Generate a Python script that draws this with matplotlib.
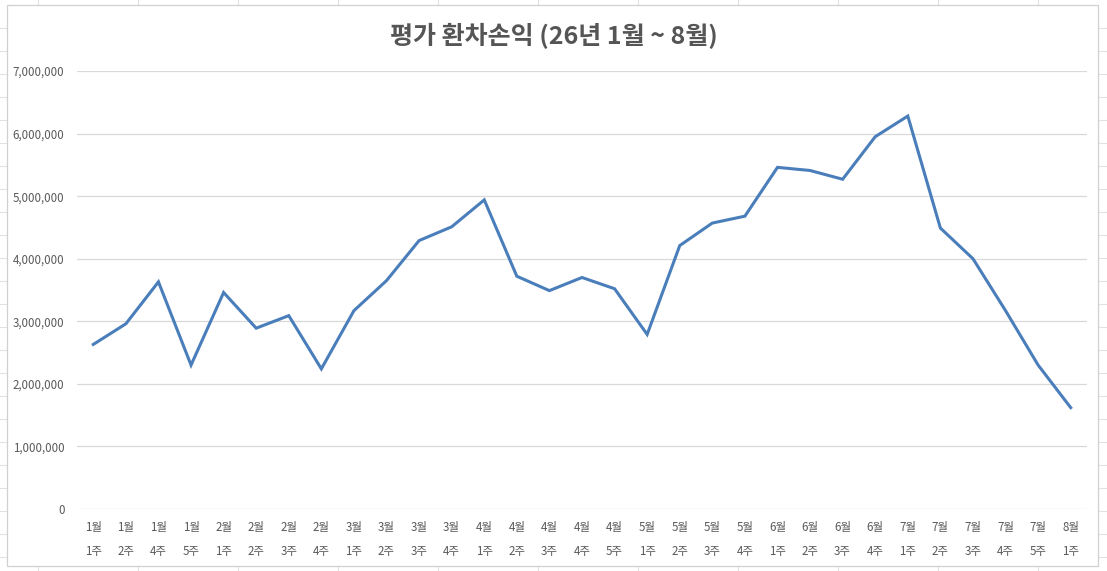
import matplotlib
matplotlib.use('Agg')
import matplotlib.pyplot as plt
from matplotlib.patches import Rectangle
from matplotlib.ticker import FuncFormatter

plt.rcParams['font.family'] = ['Noto Sans CJK KR', 'DejaVu Sans']

# 주차 라벨 (월 / 주)
months = ['1월', '1월', '1월', '1월', '2월', '2월', '2월', '2월', '3월', '3월', '3월',
          '3월', '4월', '4월', '4월', '4월', '4월', '5월', '5월', '5월', '5월', '6월',
          '6월', '6월', '6월', '7월', '7월', '7월', '7월', '7월', '8월']
weeks = ['1주', '2주', '4주', '5주', '1주', '2주', '3주', '4주', '1주', '2주', '3주',
         '4주', '1주', '2주', '3주', '4주', '5주', '1주', '2주', '3주', '4주', '1주',
         '2주', '3주', '4주', '1주', '2주', '3주', '4주', '5주', '1주']
# 평가 환차손익 (원)
values = [2630000, 2960000, 3630000, 2300000, 3460000, 2890000, 3090000, 2240000,
          3170000, 3650000, 4290000, 4510000, 4940000, 3720000, 3490000, 3700000,
          3520000, 2790000, 4210000, 4570000, 4680000, 5460000, 5410000, 5270000,
          5950000, 6280000, 4490000, 4000000, 3170000, 2300000, 1620000]

labels = [m + '\n' + w for m, w in zip(months, weeks)]

W, H = 1107, 571
fig = plt.figure(figsize=(W / 100, H / 100), dpi=100)

# 스프레드시트 배경 + 차트 테두리
bg = fig.add_axes([0, 0, 1, 1], zorder=-5)
bg.set_xlim(0, W)
bg.set_ylim(H, 0)
bg.axis('off')
for x in range(37, W, 100):
    bg.axvline(x + 0.7, color='#e2e2e2', lw=0.8, zorder=1)
for y in range(28, H, 23):
    bg.axhline(y, color='#e2e2e2', lw=0.8, zorder=1)
bg.add_patch(Rectangle((7, 5), 1091, 561, facecolor='white', edgecolor='#d0d0d0',
                       lw=0.9, zorder=2))

ax = fig.add_axes([77 / W, 1 - 509 / H, (1087 - 77) / W, (509 - 71) / H])
ax.set_facecolor('none')
xs = list(range(len(values)))
ax.plot(xs, values, color='#4a7ebb', lw=2.2, solid_joinstyle='miter', zorder=3)

ax.set_xlim(-0.5, len(values) - 0.5)
ax.set_ylim(0, 7000000)
ax.set_yticks(range(0, 7000001, 1000000))
ax.yaxis.set_major_formatter(FuncFormatter(lambda v, p: f'{int(v):,}'))
ax.set_xticks(xs)
ax.set_xticklabels(labels, linespacing=2.1)
ax.tick_params(axis='both', length=0, labelsize=8.3, colors='#595959')
ax.tick_params(axis='y', pad=9)
ax.tick_params(axis='x', pad=9)
ax.grid(axis='y', color='#d9d9d9', lw=0.9)
ax.set_axisbelow(True)
for s in ax.spines.values():
    s.set_visible(False)

fig.text(0.5, 1 - 36 / H, '평가 환차손익 (26년 1월 ~ 8월)', ha='center', va='center',
         fontsize=18, fontweight='bold', color='#555555')

fig.savefig('out.png', dpi=100)
